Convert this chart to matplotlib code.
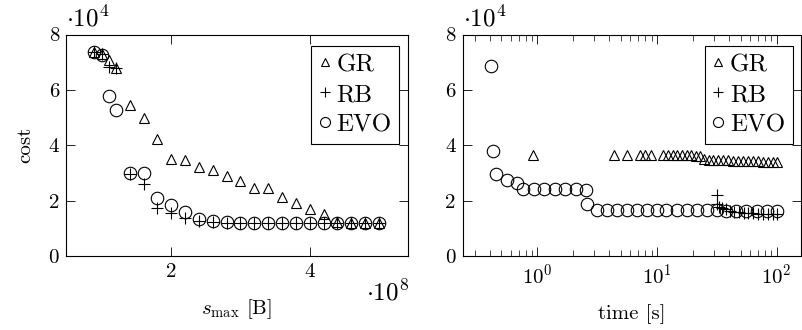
import matplotlib
matplotlib.use("Agg")
import matplotlib.pyplot as plt
from matplotlib.ticker import FuncFormatter, FixedLocator, LogLocator, NullFormatter

plt.rcParams.update({
    "font.family": "serif",
    "font.serif": ["cmr10"],
    "mathtext.fontset": "cm",
    "axes.formatter.use_mathtext": True,
    "font.size": 15,
    "axes.linewidth": 0.8,
})

# ---- cost vs. maximum size s_max ----
smax = [0.88e8, 1.0e8, 1.1e8, 1.2e8, 1.4e8, 1.6e8, 1.8e8, 2.0e8, 2.2e8, 2.4e8,
        2.6e8, 2.8e8, 3.0e8, 3.2e8, 3.4e8, 3.6e8, 3.8e8, 4.0e8, 4.2e8, 4.4e8,
        4.6e8, 4.8e8, 5.0e8]
gr_cost = [73800, 73000, 70800, 68000, 54500, 49700, 42200, 35200, 34600, 32200,
           31000, 28900, 27000, 24400, 24400, 21300, 19200, 17100, 15100, 12200,
           12100, 12100, 12100]
rb_cost = [73800, 73000, 68400, 67800, 29800, 26000, 17500, 15500, 13800, 12800,
           12200, 12100, 12100, 12100, 12100, 12100, 12100, 12100, 12100, 12100,
           12100, 12100, 12100]
evo_cost = [73800, 72600, 57900, 52900, 30000, 30000, 21000, 18500, 15800, 13300,
            12600, 12200, 12100, 12100, 12100, 12100, 12100, 12100, 12100, 12100,
            12100, 12100, 12100]

# ---- cost vs. run time ----
gr_time = [0.915, 4.37, 5.65, 7.21, 7.98, 8.85, 11.3, 12.4, 13.5, 14.8, 16.2, 17.7,
           19.2, 21.0, 22.9, 24.7, 27.2, 29.6, 32.6, 35.8, 39.4, 43.4, 47.7, 52.6,
           57.9, 63.8, 70.2, 77.3, 85.1, 93.7, 100.0]
gr_tcost = [36500, 36500, 36500, 36500, 36500, 36500, 36500, 36500, 36500, 36500,
            36500, 36400, 36400, 36300, 36200, 35000, 34800, 34600, 34600, 34500,
            34500, 34400, 34400, 34300, 34300, 34200, 34200, 34100, 34100, 34000,
            34000]
rb_time = [31.6, 31.6, 33.0, 35.0, 38.0, 41.0, 44.0, 48.0, 53.0, 58.0, 64.0, 70.0,
           77.0, 85.0, 93.0, 100.0]
rb_tcost = [22200, 18900, 17800, 17200, 16800, 16300, 16000, 15800, 15600, 15500,
            15400, 15300, 15300, 15200, 15200, 15200]
evo_time = [0.41, 0.43, 0.45, 0.555, 0.68, 0.76, 0.94, 1.14, 1.41, 1.70, 2.09, 2.54,
            2.59, 3.13, 3.80, 4.66, 5.65, 6.84, 8.3, 10.0, 12.0, 14.7, 17.7, 21.5,
            26.0, 31.6, 38.0, 46.0, 55.0, 68.0, 83.0, 100.0]
evo_tcost = [68600, 38000, 29800, 27400, 26200, 24100, 24100, 24100, 24100, 24100,
             24100, 23800, 18900, 16500, 16500, 16500, 16500, 16500, 16500, 16500,
             16500, 16500, 16500, 16500, 16500, 16500, 16200, 16200, 16200, 16200,
             16200, 16200]

labels = ["GR", "RB", "EVO"]
yticks = [0, 20000, 40000, 60000, 80000]

mk = dict(linestyle="none", color="black", markerfacecolor="none",
          markeredgewidth=0.8)
styles = [dict(marker="^", markersize=7.5), dict(marker="+", markersize=9),
          dict(marker="o", markersize=9)]

fig = plt.figure(figsize=(8.02, 3.30), dpi=100)
ax1 = fig.add_axes([0.0823, 0.2242, 0.4264, 0.6712])
ax2 = fig.add_axes([0.5769, 0.2242, 0.4224, 0.6712])

for ys, st, lab in zip([gr_cost, rb_cost, evo_cost], styles, labels):
    ax1.plot(smax, ys, label=lab, **mk, **st)
for xs, ys, st, lab in zip([gr_time, rb_time, evo_time],
                           [gr_tcost, rb_tcost, evo_tcost], styles, labels):
    ax2.plot(xs, ys, label=lab, **mk, **st)

ytick_fmt = FuncFormatter(lambda v, p: f"{v / 1e4:g}")

# left panel axes
ax1.set_xlim(0.48e8, 5.42e8)
ax1.set_ylim(0, 80000)
ax1.xaxis.set_major_locator(FixedLocator([2e8, 4e8]))
ax1.xaxis.set_major_formatter(FuncFormatter(lambda v, p: f"{v / 1e8:g}"))
ax1.set_xlabel(r"$s_{\max}$ [B]", labelpad=12)
ax1.set_ylabel("cost", labelpad=10)
ax1.text(1.003, -0.165, r"$\cdot 10^8$", transform=ax1.transAxes,
         ha="right", va="center", fontsize=18)

# right panel axes
ax2.set_xscale("log")
ax2.set_xlim(0.238, 161)
ax2.set_ylim(0, 80000)
ax2.xaxis.set_major_locator(LogLocator(base=10, numticks=10))
ax2.xaxis.set_minor_locator(LogLocator(base=10, subs=range(2, 10), numticks=20))
ax2.xaxis.set_minor_formatter(NullFormatter())
ax2.set_xlabel("time [s]", labelpad=12)

for ax in (ax1, ax2):
    ax.yaxis.set_major_locator(FixedLocator(yticks))
    ax.yaxis.set_major_formatter(ytick_fmt)
    ax.tick_params(which="major", direction="in", length=6.5, width=0.6,
                   top=True, right=True, pad=5)
    ax.tick_params(which="minor", direction="in", length=4, width=0.5,
                   top=True, right=True)
    ax.text(0.0, 1.015, r"$\cdot 10^4$", transform=ax.transAxes,
            ha="left", va="bottom", fontsize=18)
    leg = ax.legend(loc="upper right", bbox_to_anchor=(0.974, 0.948),
                    borderaxespad=0, fancybox=False, framealpha=1,
                    edgecolor="black", handlelength=0.45, handletextpad=0.25,
                    borderpad=0.3, labelspacing=0.3, fontsize=18,
                    markerscale=0.8)
    leg.get_frame().set_linewidth(0.8)

fig.savefig("out.png", dpi=100)
